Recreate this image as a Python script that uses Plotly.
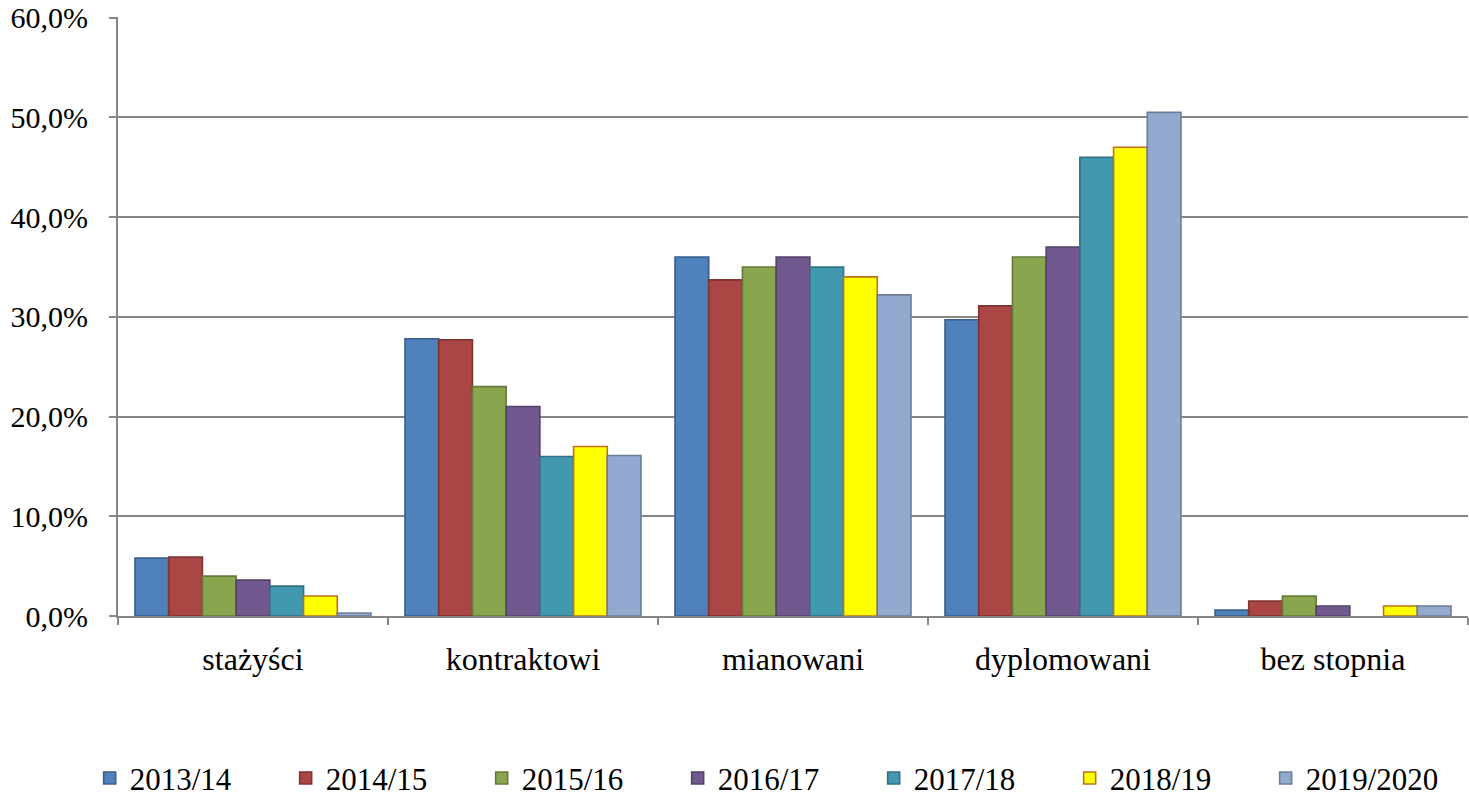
import plotly.graph_objects as go

categories = ["stażyści", "kontraktowi", "mianowani", "dyplomowani", "bez stopnia"]
years = ["2013/14", "2014/15", "2015/16", "2016/17", "2017/18", "2018/19", "2019/2020"]

v_2013_14 = [5.8, 27.8, 36.0, 29.7, 0.6]
v_2014_15 = [5.9, 27.7, 33.7, 31.1, 1.5]
v_2015_16 = [4.0, 23.0, 35.0, 36.0, 2.0]
v_2016_17 = [3.6, 21.0, 36.0, 37.0, 1.0]
v_2017_18 = [3.0, 16.0, 35.0, 46.0, None]
v_2018_19 = [2.0, 17.0, 34.0, 47.0, 1.0]
v_2019_20 = [0.3, 16.1, 32.2, 50.5, 1.0]

series = [v_2013_14, v_2014_15, v_2015_16, v_2016_17, v_2017_18, v_2018_19, v_2019_20]
fills = ["#4F81BD", "#AA4643", "#89A54E", "#71588F", "#4198AF", "#FFFF00", "#93A9CF"]
borders = ["#385D8A", "#7E3431", "#66793A", "#53416A", "#307082", "#C0701C", "#6D7D99"]

fig = go.Figure()
for name, vals, fc, bc in zip(years, series, fills, borders):
    fig.add_trace(go.Bar(
        x=categories, y=vals, name=name,
        marker=dict(color=fc, line=dict(color=bc, width=1.6)),
    ))

font_family = "Times New Roman"
fig.update_layout(
    width=1469, height=806,
    margin=dict(l=118, r=1, t=17, b=187),
    paper_bgcolor="white", plot_bgcolor="white",
    barmode="group", bargap=0.126, bargroupgap=0,
    separators=", ",
    font=dict(family=font_family, size=30, color="black"),
    showlegend=True,
    legend=dict(
        orientation="h", x=-0.021, xanchor="left",
        y=-0.271, yanchor="middle",
        entrywidth=151, entrywidthmode="pixels", itemwidth=30,
        font=dict(family=font_family, size=31, color="black"),
        traceorder="normal",
    ),
    xaxis=dict(
        type="category", tickson="boundaries", ticks="outside", ticklen=7,
        tickcolor="#868686", tickwidth=2, showline=True, linecolor="#868686", linewidth=2,
        showgrid=False, ticklabelstandoff=14, automargin=False,
        tickfont=dict(family=font_family, size=32),
    ),
    yaxis=dict(
        range=[0, 60.06], dtick=10, tickformat=".1f", ticksuffix="%",
        showgrid=True, gridcolor="#868686", gridwidth=1.5,
        showline=True, linecolor="#868686", linewidth=2,
        ticks="outside", ticklen=7, tickcolor="#868686", tickwidth=2,
        zeroline=False, ticklabelstandoff=15, automargin=False,
        ticklabeloverflow="allow",
        tickfont=dict(family=font_family, size=30),
    ),
)

fig.write_html(
    "out.html",
    config={"displayModeBar": False},
    post_script="document.body.style.margin='0';document.body.style.overflow='hidden';",
)
